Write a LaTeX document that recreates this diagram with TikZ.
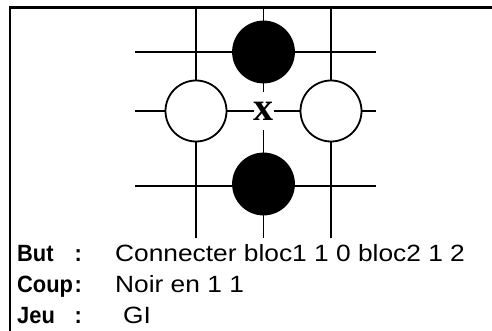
\documentclass[tikz,border=0pt]{standalone}
\usepackage{fontspec}
\setmainfont{Liberation Sans}
\newfontfamily\markfont{Liberation Serif}
\newfontfamily\valfont[FakeStretch=1.12]{Liberation Sans}
\newfontfamily\lblfont[FakeStretch=0.93]{Liberation Sans}
\newcommand{\lbltext}[1]{\makebox[57.5pt][l]{#1}:}
\tikzset{
  blackstone/.style={circle, draw=black, fill=black, minimum size=61pt,
                     inner sep=0, line width=1.8pt},
  whitestone/.style={circle, draw=black, fill=white, minimum size=61pt,
                     inner sep=0, line width=1.8pt},
  gridline/.style={line width=1.8pt},
}
\begin{document}
\begin{tikzpicture}[x=1pt, y=-1pt,
      lbl/.style={anchor=base west, inner sep=0,
                  font=\lblfont\fontsize{23.5}{23.5}\selectfont\bfseries},
      val/.style={anchor=base west, inner sep=0,
                  font=\valfont\fontsize{23.5}{23.5}\selectfont},
    ]
    \useasboundingbox (0,0) rectangle (492,331);

    % ======== FRAME ========
    \coordinate (fb) at (10,331);
    \coordinate (fc) at (10,7.5);
    \coordinate (fr) at (492,7.5);
    \draw[line width=2.6pt] (fb) -- (fc) -- (fr);

    % ======== BOARD ========
    \foreach \c/\cx in {0/196, 1/263.5, 2/331} {
      \coordinate (ct\c) at (\cx, 7.5);
      \coordinate (cb\c) at (\cx, 238);
      \draw[gridline] (ct\c) -- (cb\c);
    }
    \foreach \r/\ry in {0/52, 1/111, 2/186} {
      \coordinate (rl\r) at (135, \ry);
      \coordinate (rr\r) at (376, \ry);
      \draw[gridline] (rl\r) -- (rr\r);
    }

    % stones
    \node[blackstone] (black1) at (263.5, 52) {};
    \node[blackstone] (black2) at (263.5, 184) {};
    \node[whitestone] (white1) at (196, 111) {};
    \node[whitestone] (white2) at (331, 111) {};

    % point to play
    \node[fill=white, inner sep=0, minimum width=20pt, minimum height=38pt,
          font=\markfont\bfseries\fontsize{40}{40}\selectfont]
      (mark) at (263.5, 111) {x};

    % ======== LEGEND ========
    \node[lbl] (but)  at (17, 261.7) {\lbltext{But}};
    \node[val] (butv) at (115, 261.7) {Connecter bloc1 1 0 bloc2 1 2};
    \node[lbl] (coup)  at (17, 292.7) {\lbltext{Coup}};
    \node[val] (coupv) at (115, 292.7) {Noir en 1 1};
    \node[lbl] (jeu)  at (17, 323.3) {\lbltext{Jeu}};
    \node[val] (jeuv) at (123, 323.3) {GI};

  \end{tikzpicture}
\end{document}
